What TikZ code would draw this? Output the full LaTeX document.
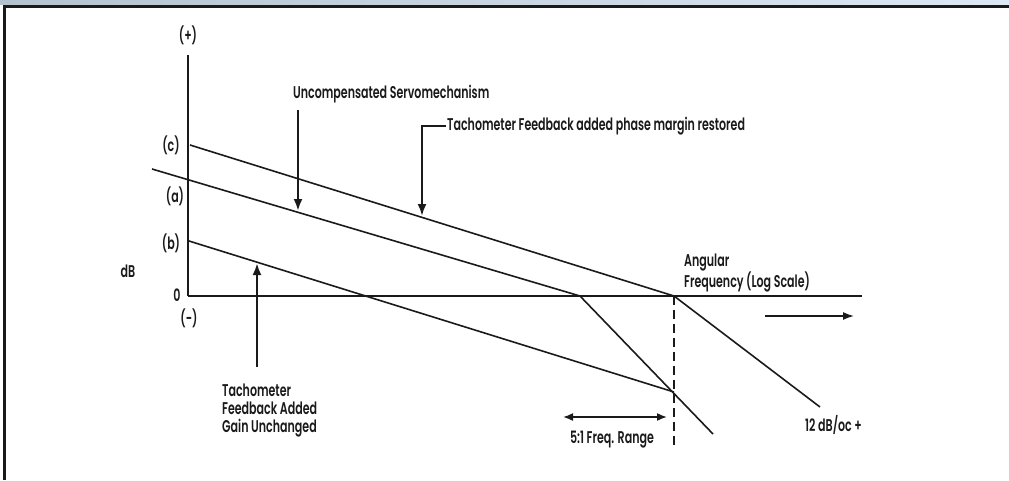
\documentclass[tikz,border=0pt]{standalone}
\usepackage{fontspec}
\setmainfont{Poppins SemiBold}[FakeStretch=0.65]
\usepackage{tikz}
\usetikzlibrary{
  arrows.meta,
  positioning,
  calc
}
\definecolor{bdInk}{HTML}{1A1A1A}
\definecolor{bdStripL}{HTML}{B4C2D0}
\definecolor{bdStripR}{HTML}{DCE8F3}
\tikzset{
  bdlabel/.style={font=\fontsize{17}{18}\selectfont, inner sep=1pt, text=bdInk},
  frameline/.style={line width=3pt, bdInk},
  axisline/.style={line width=2.8pt, bdInk},
  zeroline/.style={line width=1.6pt, bdInk},
  curve/.style={line width=1.6pt, bdInk},
  marker/.style={line width=2.8pt, bdInk, dash pattern=on 9pt off 5pt},
  pointer/.style={-{Latex[length=12pt, width=9pt]}, line width=2.8pt, bdInk},
  span/.style={{Latex[length=10pt, width=8pt]}-{Latex[length=10pt, width=8pt]}, line width=1.6pt, bdInk},
  runarrow/.style={-{Latex[length=11pt, width=8pt]}, line width=1.6pt, bdInk}
}
\begin{document}
\begin{tikzpicture}[x=1pt, y=-1pt]
  \useasboundingbox (0,0) rectangle (1009,480);
  % frame
  \fill[left color=bdStripL, right color=bdStripR] (0,0) rectangle (1009,4.5);
  \draw[frameline] (4.5,480) -- (4.5,6) -- (1009,6);

  % axes
  \coordinate (O) at (188,296);
  \coordinate (ytop) at (188,55);
  \coordinate (xend) at (862,296);
  \draw[axisline] (O) -- (ytop);
  \draw[zeroline] (O) -- (xend);

  % asymptotes
  \coordinate (ca) at (152,169);
  \coordinate (cc) at (190,145);
  \coordinate (cb) at (189,241);
  \coordinate (pa) at (580,296);
  \coordinate (pc) at (674,296);
  \coordinate (pb) at (674,392);
  \coordinate (ea) at (713,434);
  \coordinate (ec) at (820,407);
  \coordinate (dend) at (674,447);
  \draw[curve] (cc) -- (pc) -- (ec);
  \draw[curve] (ca) -- (pa) -- (ea);
  \draw[curve] (cb) -- (pb);
  \draw[marker] (pc) -- (dend);

  % axis labels
  \node[bdlabel] (plus) at (188,35) {(+)};
  \node[bdlabel] (minus) at (189,318) {(-)};
  \node[bdlabel] (zero) at (177,295) {0};
  \node[bdlabel] (dB) at (128,271) {dB};
  \node[bdlabel] (lc) at (171,145) {(c)};
  \node[bdlabel] (la) at (175,196) {(a)};
  \node[bdlabel] (lb) at (171,243) {(b)};
  \node[bdlabel, align=left, anchor=west] (angular) at (683,273) {Angular\\Frequency (Log Scale)};

  % callouts
  \node[bdlabel, anchor=west] (uncomp) at (292,94) {Uncompensated Servomechanism};
  \coordinate (ut) at (298,110);
  \coordinate (uh) at (298,211);
  \draw[pointer] (ut) -- (uh);

  \node[bdlabel, anchor=west] (restored) at (446,126) {Tachometer Feedback added phase margin restored};
  \coordinate (rh) at (422,216);
  \draw[pointer, line width=2.2pt] (restored.west) -| (rh);

  \node[bdlabel, align=left, anchor=north west] (gain) at (221,383) {Tachometer\\Feedback Added\\Gain Unchanged};
  \coordinate (gt) at (257,367);
  \coordinate (gh) at (257,263);
  \draw[pointer] (gt) -- (gh);

  \node[bdlabel] (range) at (612,440) {5:1 Freq. Range};
  \coordinate (rl) at (563,417);
  \coordinate (rr) at (667,417);
  \draw[span] (rl) -- (rr);

  \node[bdlabel, anchor=west] (slope) at (804,425) {12 dB/oc +};
  \coordinate (fl) at (765,316);
  \coordinate (fr) at (854,316);
  \draw[runarrow] (fl) -- (fr);
\end{tikzpicture}
\end{document}
